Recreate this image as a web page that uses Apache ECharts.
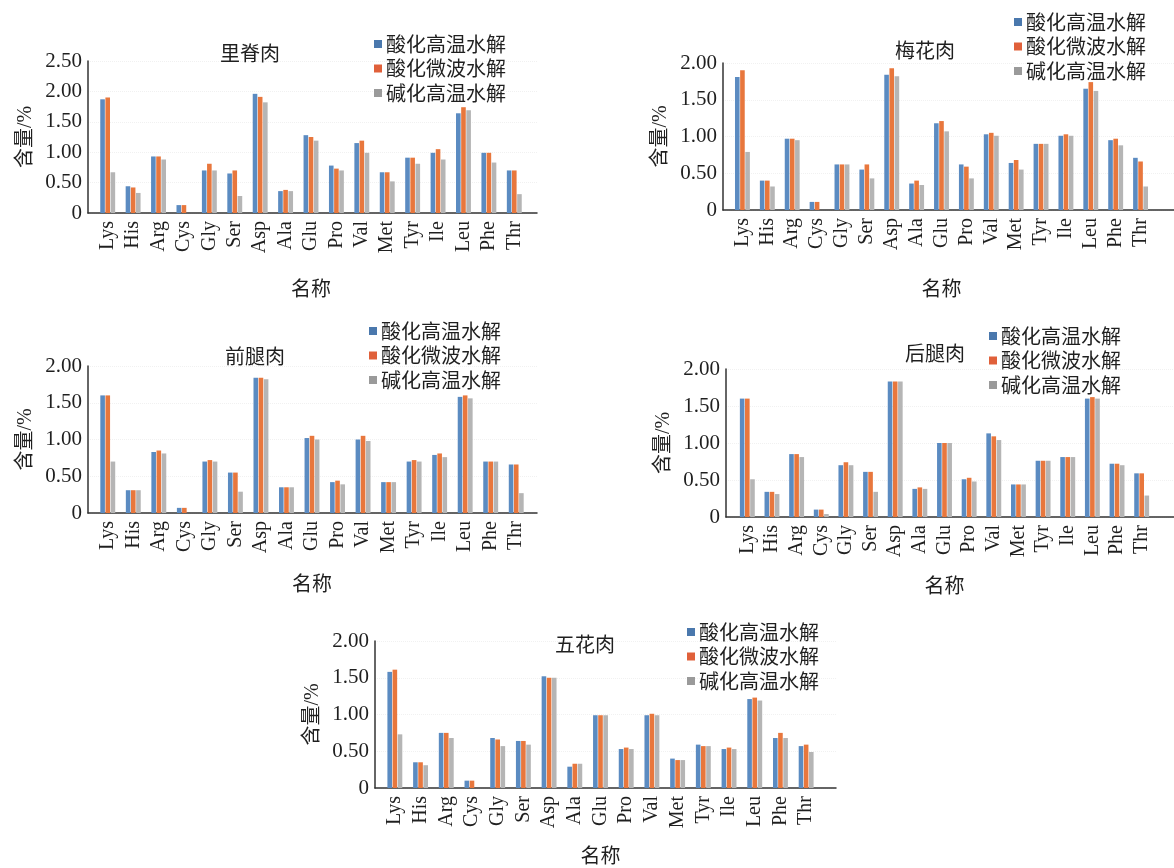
<!DOCTYPE html>
<html>
<head>
<meta charset="utf-8">
<script src="https://cdn.jsdelivr.net/npm/echarts@6/dist/echarts.min.js"></script>
<style>
  html, body { margin: 0; padding: 0; background: #fff; }
  #main { width: 1174px; height: 868px; }
</style>
</head>
<body>
<div id="main"></div>
<script>
// Amino acid content (%) of five pork cuts under three hydrolysis methods
const categories = ['Lys','His','Arg','Cys','Gly','Ser','Asp','Ala','Glu','Pro','Val','Met','Tyr','Ile','Leu','Phe','Thr'];
const methodNames = ['酸化高温水解','酸化微波水解','碱化高温水解'];
const cutNames = ['里脊肉','梅花肉','前腿肉','后腿肉','五花肉'];

// 里脊肉
const tenderloinAcidHeat  = [1.87,0.44,0.93,0.13,0.70,0.65,1.96,0.36,1.28,0.78,1.15,0.67,0.91,0.99,1.64,0.99,0.70];
const tenderloinAcidMicro = [1.90,0.42,0.93,0.13,0.81,0.70,1.91,0.38,1.25,0.73,1.19,0.67,0.91,1.05,1.74,0.99,0.70];
const tenderloinAlkHeat   = [0.67,0.33,0.88,0,   0.70,0.28,1.82,0.36,1.19,0.70,0.99,0.52,0.81,0.88,1.69,0.83,0.31];
// 梅花肉
const collarAcidHeat  = [1.81,0.40,0.97,0.11,0.62,0.55,1.84,0.36,1.18,0.62,1.03,0.64,0.90,1.01,1.65,0.95,0.71];
const collarAcidMicro = [1.90,0.40,0.97,0.11,0.62,0.62,1.93,0.40,1.21,0.59,1.05,0.68,0.90,1.03,1.74,0.97,0.66];
const collarAlkHeat   = [0.79,0.32,0.95,0,   0.62,0.43,1.82,0.34,1.07,0.43,1.01,0.55,0.90,1.01,1.62,0.88,0.32];
// 前腿肉
const forelegAcidHeat  = [1.60,0.31,0.83,0.07,0.70,0.55,1.84,0.35,1.02,0.42,1.00,0.42,0.70,0.79,1.58,0.70,0.66];
const forelegAcidMicro = [1.60,0.31,0.85,0.07,0.72,0.55,1.84,0.35,1.05,0.44,1.05,0.42,0.72,0.81,1.60,0.70,0.66];
const forelegAlkHeat   = [0.70,0.31,0.81,0,   0.70,0.29,1.82,0.35,1.00,0.39,0.98,0.42,0.70,0.76,1.56,0.70,0.27];
// 后腿肉
const hindlegAcidHeat  = [1.60,0.34,0.85,0.10,0.70,0.61,1.83,0.38,1.00,0.51,1.13,0.44,0.76,0.81,1.60,0.72,0.59];
const hindlegAcidMicro = [1.60,0.34,0.85,0.10,0.74,0.61,1.83,0.40,1.00,0.53,1.09,0.44,0.76,0.81,1.62,0.72,0.59];
const hindlegAlkHeat   = [0.51,0.31,0.81,0.04,0.70,0.34,1.83,0.38,1.00,0.48,1.04,0.44,0.76,0.81,1.60,0.70,0.29];
// 五花肉
const bellyAcidHeat  = [1.58,0.35,0.75,0.10,0.68,0.64,1.52,0.29,0.99,0.53,0.99,0.40,0.59,0.53,1.21,0.68,0.57];
const bellyAcidMicro = [1.61,0.35,0.75,0.10,0.66,0.64,1.50,0.33,0.99,0.55,1.01,0.38,0.57,0.55,1.23,0.75,0.59];
const bellyAlkHeat   = [0.73,0.31,0.68,0,   0.57,0.59,1.50,0.33,0.99,0.53,0.99,0.38,0.57,0.53,1.19,0.68,0.49];

const panelData = [
  [tenderloinAcidHeat, tenderloinAcidMicro, tenderloinAlkHeat],
  [collarAcidHeat, collarAcidMicro, collarAlkHeat],
  [forelegAcidHeat, forelegAcidMicro, forelegAlkHeat],
  [hindlegAcidHeat, hindlegAcidMicro, hindlegAlkHeat],
  [bellyAcidHeat, bellyAcidMicro, bellyAlkHeat]
];
const yMax = [2.5, 2.0, 2.0, 2.0, 2.0];

// Panel layout (pixels)
const layout = [
  { frameL: 88,  frameW: 449, dataL: 95,  dataW: 432, top: 61,  h: 152, titleX: 250, titleY: 43,  legX: 374,  legY: 34,  yNameGap: 52, xNameGap: 65 },
  { frameL: 723, frameW: 451, dataL: 730, dataW: 423, top: 63,  h: 147, titleX: 925, titleY: 40,  legX: 1014, legY: 12,  yNameGap: 52, xNameGap: 68 },
  { frameL: 88,  frameW: 449, dataL: 95,  dataW: 434, top: 366, h: 147, titleX: 255, titleY: 346, legX: 369,  legY: 321, yNameGap: 52, xNameGap: 60 },
  { frameL: 726, frameW: 448, dataL: 735, dataW: 419, top: 369, h: 148, titleX: 935, titleY: 343, legX: 989,  legY: 326, yNameGap: 52, xNameGap: 58 },
  { frameL: 375, frameW: 461, dataL: 382, dataW: 437, top: 641, h: 147, titleX: 585, titleY: 634, legX: 687,  legY: 622, yNameGap: 52, xNameGap: 57 }
];

const barColors = ['#5b8bc1', '#e8773d', '#b5b5b5'];
const legendColors = ['#4a78ad', '#e0603a', '#9a9a9a'];
const latinFont = "'Liberation Serif', 'Noto Sans CJK SC', serif";
const cjkFont = "'Noto Sans CJK SC', 'Liberation Serif', sans-serif";
const ink = '#1f1f1f';

const grid = [], xAxis = [], yAxis = [], series = [], title = [], legend = [];

layout.forEach((p, i) => {
  const frameIdx = grid.length;
  // frame grid: carries the visible axis lines and y tick labels
  grid.push({ left: p.frameL, width: p.frameW, top: p.top, height: p.h, containLabel: false });
  xAxis.push({
    gridIndex: frameIdx, type: 'value', min: 0, max: 1,
    axisLine: { show: true, lineStyle: { color: '#333', width: 1.5 } },
    axisTick: { show: false }, axisLabel: { show: false }, splitLine: { show: false }
  });
  yAxis.push({
    gridIndex: frameIdx, type: 'value', min: 0, max: yMax[i], interval: 0.5,
    name: '含量/%', nameLocation: 'middle', nameGap: p.yNameGap,
    nameTextStyle: { fontFamily: latinFont, fontSize: 20, color: ink },
    axisLine: { show: true, lineStyle: { color: '#333', width: 1.5 } },
    axisTick: { show: false },
    axisLabel: {
      fontFamily: latinFont, fontSize: 21, color: ink, margin: 6,
      formatter: v => (v === 0 ? '0' : v.toFixed(2))
    },
    splitLine: { show: true, lineStyle: { color: '#f1f1f1', type: 'dotted' } }
  });

  // data grid: category bands for the bars
  const dataIdx = grid.length;
  grid.push({ left: p.dataL, width: p.dataW, top: p.top, height: p.h, containLabel: false });
  xAxis.push({
    gridIndex: dataIdx, type: 'category', data: categories,
    name: '名称', nameLocation: 'middle', nameGap: p.xNameGap,
    nameTextStyle: { fontFamily: cjkFont, fontSize: 20, color: ink },
    axisLine: { show: false }, axisTick: { show: false },
    axisLabel: { rotate: 90, interval: 0, fontFamily: latinFont, fontSize: 20, color: ink, margin: 8 }
  });
  yAxis.push({ gridIndex: dataIdx, type: 'value', min: 0, max: yMax[i], show: false, splitLine: { show: false } });

  panelData[i].forEach((values, k) => {
    series.push({
      type: 'bar', name: methodNames[k],
      xAxisIndex: dataIdx, yAxisIndex: dataIdx,
      data: values, barWidth: 4.6, barGap: '12%',
      itemStyle: { color: barColors[k] },
      emphasis: { disabled: true }, animation: false
    });
  });

  title.push({
    text: cutNames[i], left: p.titleX, top: p.titleY, textAlign: 'center', padding: 0,
    textStyle: { fontFamily: cjkFont, fontSize: 20, fontWeight: 'normal', color: ink }
  });

  legend.push({
    orient: 'vertical', left: p.legX, top: p.legY, padding: 0,
    itemWidth: 8, itemHeight: 8, itemGap: 4.5,
    icon: 'rect', selectedMode: false,
    textStyle: { fontFamily: cjkFont, fontSize: 20, lineHeight: 20, color: ink, padding: [0, 0, 0, -1] },
    data: methodNames.map((n, k) => ({ name: n, itemStyle: { color: legendColors[k] } }))
  });
});

const chart = echarts.init(document.getElementById('main'), null, { renderer: 'canvas' });
chart.setOption({
  backgroundColor: '#fff',
  animation: false,
  title, legend, grid, xAxis, yAxis, series
});
</script>
</body>
</html>
